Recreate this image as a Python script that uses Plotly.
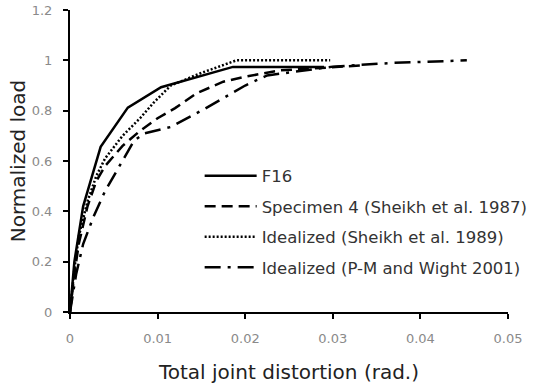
import plotly.graph_objects as go

# F16 (test)
f16_x = [0, 0.0005, 0.0015, 0.0035, 0.0066, 0.0104, 0.0186, 0.029]
f16_y = [0, 0.20, 0.42, 0.656, 0.812, 0.893, 0.974, 0.974]

# Specimen 4 (Sheikh et al. 1987)
s4_x = [0, 0.0005, 0.001, 0.002, 0.003, 0.004, 0.006, 0.008, 0.010, 0.012, 0.0145, 0.0175, 0.020, 0.024, 0.0335]
s4_y = [0, 0.15, 0.27, 0.42, 0.52, 0.58, 0.66, 0.72, 0.77, 0.81, 0.87, 0.915, 0.935, 0.96, 0.98]

# Idealized (Sheikh et al. 1989)
is_x = [0, 0.0005, 0.001, 0.002, 0.003, 0.004, 0.006, 0.008, 0.0095, 0.0115, 0.015, 0.019, 0.0297]
is_y = [0, 0.17, 0.30, 0.44, 0.54, 0.61, 0.70, 0.77, 0.83, 0.90, 0.95, 1.0, 1.0]

# Idealized (P-M and Wight 2001)
pm_x = [0, 0.0007, 0.0015, 0.0027, 0.004, 0.0055, 0.0073, 0.0085, 0.0115, 0.015, 0.020, 0.0225, 0.030, 0.037, 0.0453]
pm_y = [0, 0.15, 0.27, 0.38, 0.48, 0.57, 0.68, 0.71, 0.735, 0.80, 0.90, 0.94, 0.975, 0.99, 1.0]

names = ["F16", "Specimen 4 (Sheikh et al. 1987)", "Idealized (Sheikh et al. 1989)",
         "Idealized (P-M and Wight 2001)"]
dashes = ["solid", "11px,6px", "2px,2px", "16px,7px,3px,7px"]
series = [(f16_x, f16_y), (s4_x, s4_y), (is_x, is_y), (pm_x, pm_y)]

x_ticks = [0, 0.01, 0.02, 0.03, 0.04, 0.05]
x_ticklabels = ["0", "0.01", "0.02", "0.03", "0.04", "0.05"]
y_ticks = [0, 0.2, 0.4, 0.6, 0.8, 1.0, 1.2]
y_ticklabels = ["0", "0.2", "0.4", "0.6", "0.8", "1", "1.2"]

fig = go.Figure()
for i, ((x, y), n, d) in enumerate(zip(series, names, dashes)):
    fig.add_trace(go.Scatter(x=x, y=y, mode="lines", name=n, legendgroup=str(i),
                             line=dict(color="black", width=2.5, dash=d)))

font = "DejaVu Sans, Verdana, sans-serif"
fig.update_layout(
    width=536, height=390,
    margin=dict(l=70, r=28, t=10, b=78, autoexpand=False),
    paper_bgcolor="white", plot_bgcolor="white",
    font=dict(family=font, color="#222"),
    showlegend=True,
    legend=dict(x=0.296, y=0.508, xanchor="left", yanchor="top",
                font=dict(size=16.5, color="#333", family=font),
                itemwidth=52,
                bgcolor="rgba(0,0,0,0)", tracegroupgap=6),
    xaxis=dict(range=[0, 0.05], tickvals=x_ticks, ticktext=x_ticklabels, automargin=False,
               showgrid=False, zeroline=False, showline=True, linecolor="black", linewidth=2,
               ticks="outside", ticklen=5, tickwidth=2, tickcolor="black",
               ticklabelstandoff=8,
               tickfont=dict(size=13, color="#8a8a8a"),
               title=dict(text="Total joint distortion (rad.)", font=dict(size=20, color="#222"), standoff=20)),
    yaxis=dict(range=[0, 1.2], tickvals=y_ticks, ticktext=y_ticklabels, automargin=False,
               showgrid=False, zeroline=False, showline=True, linecolor="black", linewidth=2,
               ticks="outside", ticklen=5, tickwidth=2, tickcolor="black",
               ticklabelstandoff=8,
               tickfont=dict(size=13, color="#8a8a8a"),
               title=dict(text="Normalized load", font=dict(size=20, color="#222"), standoff=1)),
)
fig.write_html("out.html")
